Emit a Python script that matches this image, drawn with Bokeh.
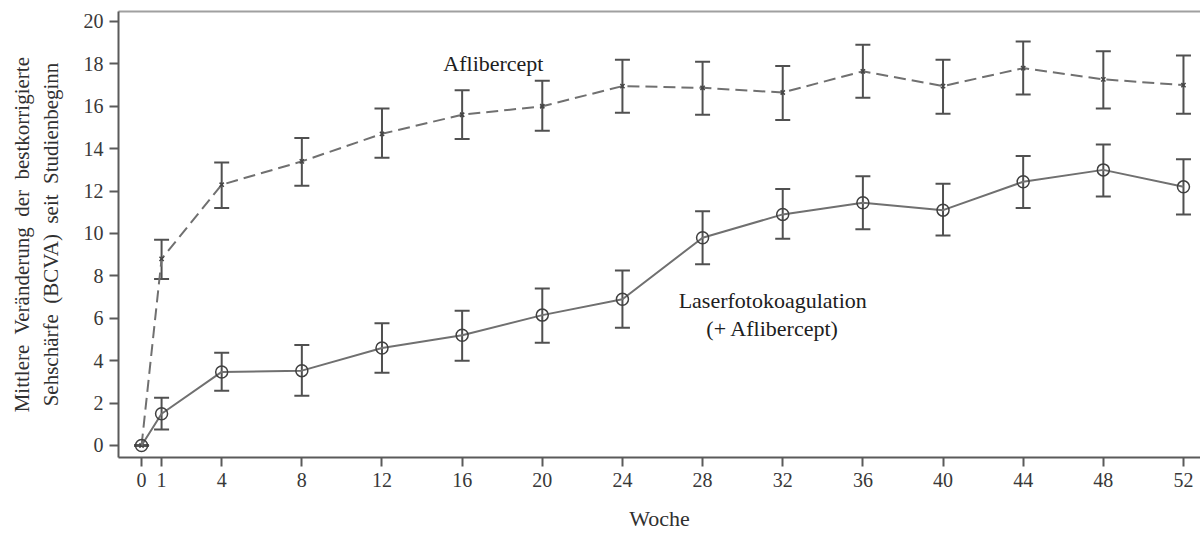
from bokeh.plotting import figure
from bokeh.models import ColumnDataSource, Whisker, FixedTicker, Range1d, Label, LinearAxis
from bokeh.embed import file_html
from bokeh.resources import INLINE

weeks = [0, 1, 4, 8, 12, 16, 20, 24, 28, 32, 36, 40, 44, 48, 52]

afl_mean = [0, 8.8, 12.3, 13.4, 14.7, 15.6, 16.0, 16.95, 16.87, 16.65, 17.65, 16.95, 17.8, 17.27, 17.0]
afl_low = [0, 7.85, 11.2, 12.25, 13.57, 14.46, 14.84, 15.7, 15.6, 15.35, 16.4, 15.65, 16.55, 15.9, 15.65]
afl_high = [0, 9.7, 13.35, 14.5, 15.9, 16.76, 17.2, 18.2, 18.1, 17.9, 18.9, 18.2, 19.06, 18.6, 18.4]

las_mean = [0, 1.5, 3.47, 3.53, 4.6, 5.2, 6.15, 6.9, 9.8, 10.9, 11.45, 11.1, 12.44, 13.0, 12.2]
las_low = [0, 0.75, 2.58, 2.35, 3.43, 4.0, 4.85, 5.55, 8.55, 9.75, 10.2, 9.9, 11.2, 11.74, 10.9]
las_high = [0, 2.25, 4.37, 4.74, 5.77, 6.35, 7.4, 8.25, 11.05, 12.1, 12.7, 12.35, 13.66, 14.2, 13.5]

y_ticks = list(range(0, 21, 2))

FONT = "Liberation Serif"
SP = "\u00a0 "

p = figure(width=1200, height=534, output_backend="svg", toolbar_location=None,
           x_range=Range1d(-1.15, 52.85), y_range=Range1d(-0.566, 20.47),
           min_border_left=118, min_border_right=0, min_border_top=11, min_border_bottom=77)
p.grid.visible = False
p.outline_line_color = None
p.background_fill_color = "white"

afl = ColumnDataSource(dict(x=weeks, y=afl_mean, lo=afl_low, hi=afl_high))
las = ColumnDataSource(dict(x=weeks, y=las_mean, lo=las_low, hi=las_high))


def whisker(src):
    w = Whisker(source=src, base="x", lower="lo", upper="hi", line_color="#505050", line_width=2)
    for h in (w.upper_head, w.lower_head):
        h.size = 15
        h.line_color = "#505050"
        h.line_width = 2
    return w


p.line("x", "y", source=afl, line_color="#707070", line_width=2, line_dash="12 6")
p.add_layout(whisker(afl))
p.scatter("x", "y", source=afl, marker="x", size=6, line_color="#444444", line_width=1.5)

p.line("x", "y", source=las, line_color="#707070", line_width=2)
p.add_layout(whisker(las))
p.scatter("x", "y", source=las, marker="circle", size=12, fill_alpha=0.0,
          line_color="#404040", line_width=1.5)

for ax in (p.xaxis[0], p.yaxis[0]):
    ax.axis_line_color = "#5a5a5a"
    ax.axis_line_width = 2
    ax.major_tick_line_color = "#5a5a5a"
    ax.major_tick_line_width = 2
    ax.major_tick_out = 9
    ax.major_tick_in = 0
    ax.minor_tick_line_color = None
    ax.major_label_text_font = FONT
    ax.major_label_text_font_size = "20px"
    ax.major_label_text_color = "#383838"
    ax.axis_label_text_font = FONT
    ax.axis_label_text_font_style = "normal"
    ax.axis_label_text_color = "#303030"

p.xaxis[0].ticker = FixedTicker(ticks=weeks)
p.yaxis[0].ticker = FixedTicker(ticks=y_ticks)
p.xaxis[0].major_label_standoff = 6
p.yaxis[0].major_label_standoff = 6
p.xaxis[0].axis_label = "Woche"
p.xaxis[0].axis_label_text_font_size = "22px"
p.xaxis[0].axis_label_standoff = 16
p.yaxis[0].axis_label = ("Mittlere" + SP + "Veränderung" + SP + "der" + SP + "bestkorrigierte\n"
                         "Sehschärfe" + SP + "(BCVA)" + SP + "seit" + SP + "Studienbeginn")
p.yaxis[0].axis_label_text_font_size = "21px"
p.yaxis[0].axis_label_text_line_height = 1.2
p.yaxis[0].axis_label_standoff = 18

top = LinearAxis(ticker=FixedTicker(ticks=[]), axis_line_color="#a0a0a0", axis_line_width=2,
                 major_tick_out=0, minor_tick_out=0, major_label_text_font_size="0px")
p.add_layout(top, "above")

p.add_layout(Label(x=17.56, y=18.03, text="Aflibercept", text_font=FONT, text_font_size="22px",
                   text_color="#202020", text_align="center", text_baseline="middle"))
p.add_layout(Label(x=31.5, y=6.85, text="Laserfotokoagulation", text_font=FONT, text_font_size="22px",
                   text_color="#202020", text_align="center", text_baseline="middle"))
p.add_layout(Label(x=31.5, y=5.54, text="(+ Aflibercept)", text_font=FONT, text_font_size="22px",
                   text_color="#202020", text_align="center", text_baseline="middle"))

open("out.html", "w").write(file_html(p, INLINE))
